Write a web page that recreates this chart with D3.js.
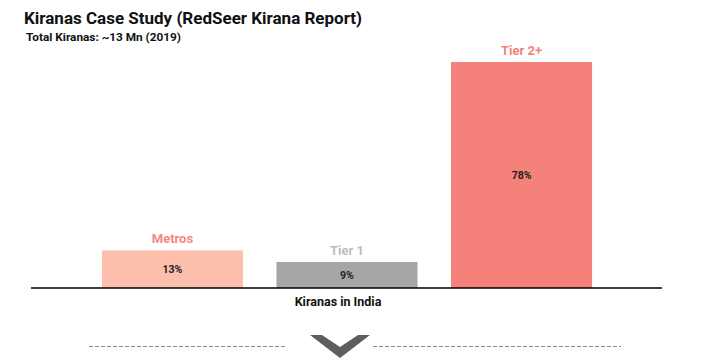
<!DOCTYPE html>
<html>
<head>
<meta charset="utf-8">
<script src="https://cdn.jsdelivr.net/npm/d3@7"></script>
<style>
  body { margin: 0; background: #fff; }
  svg { font-family: Roboto, "Noto Sans", sans-serif; }
</style>
</head>
<body>
<svg id="svg" width="710" height="363"></svg>
<script>
let categories = ["Metros", "Tier 1", "Tier 2+"];
let shares = [13, 9, 78];
let barColors = ["#fcbfab", "#a6a6a6", "#f4827b"];
let labelColors = ["#f4877e", "#bdbdbd", "#f4827b"];

let svg = d3.select("svg");
let baseline = 288;

let x = d3.scaleBand()
  .domain(categories)
  .range([33, 661])
  .paddingInner(0.192)
  .paddingOuter(0.395);

let y = d3.scaleLinear()
  .domain([0, 78])
  .range([baseline, 62]);

// title
svg.append("text")
  .attr("x", 24).attr("y", 23.5)
  .attr("font-size", 17).attr("font-weight", 700)
  .attr("fill", "#111")
  .text("Kiranas Case Study (RedSeer Kirana Report)");

svg.append("text")
  .attr("x", 26).attr("y", 40.5)
  .attr("font-size", 11.8).attr("font-weight", 700)
  .attr("fill", "#111")
  .text("Total Kiranas: ~13 Mn (2019)");

let data = categories.map((c, i) => ({ cat: c, value: shares[i], color: barColors[i], label: labelColors[i] }));

svg.selectAll("rect.bar")
  .data(data)
  .enter().append("rect")
    .attr("class", "bar")
    .attr("x", d => x(d.cat))
    .attr("width", x.bandwidth())
    .attr("y", d => y(d.value))
    .attr("height", d => baseline - y(d.value))
    .attr("fill", d => d.color);

svg.selectAll("text.cat")
  .data(data)
  .enter().append("text")
    .attr("class", "cat")
    .attr("x", d => x(d.cat) + x.bandwidth() / 2)
    .attr("y", d => y(d.value) - 7)
    .attr("text-anchor", "middle")
    .attr("font-size", 13).attr("font-weight", 700)
    .attr("fill", d => d.label)
    .text(d => d.cat);

svg.selectAll("text.val")
  .data(data)
  .enter().append("text")
    .attr("class", "val")
    .attr("x", d => x(d.cat) + x.bandwidth() / 2)
    .attr("y", d => (y(d.value) + baseline) / 2)
    .attr("dy", "0.35em")
    .attr("text-anchor", "middle")
    .attr("font-size", 10.5).attr("font-weight", 700)
    .attr("fill", "#222")
    .text(d => d.value + "%");

// axis line
svg.append("line")
  .attr("x1", 31).attr("x2", 662)
  .attr("y1", baseline).attr("y2", baseline)
  .attr("stroke", "#000").attr("stroke-width", 1.5);

svg.append("text")
  .attr("x", 338).attr("y", 306)
  .attr("text-anchor", "middle")
  .attr("font-size", 12.5).attr("font-weight", 700)
  .attr("fill", "#111")
  .text("Kiranas in India");

// dashed separator with chevron
[[89, 287], [373, 621]].forEach(([a, b]) => {
  svg.append("line")
    .attr("x1", a).attr("x2", b)
    .attr("y1", 346.5).attr("y2", 346.5)
    .attr("stroke", "#8a8a8a").attr("stroke-width", 1)
    .attr("stroke-dasharray", "4,2");
});

svg.append("polygon")
  .attr("points", "310,335 322,335 340,347 358,335 370,335 340,358")
  .attr("fill", "#5e5e5e");
</script>
</body>
</html>
